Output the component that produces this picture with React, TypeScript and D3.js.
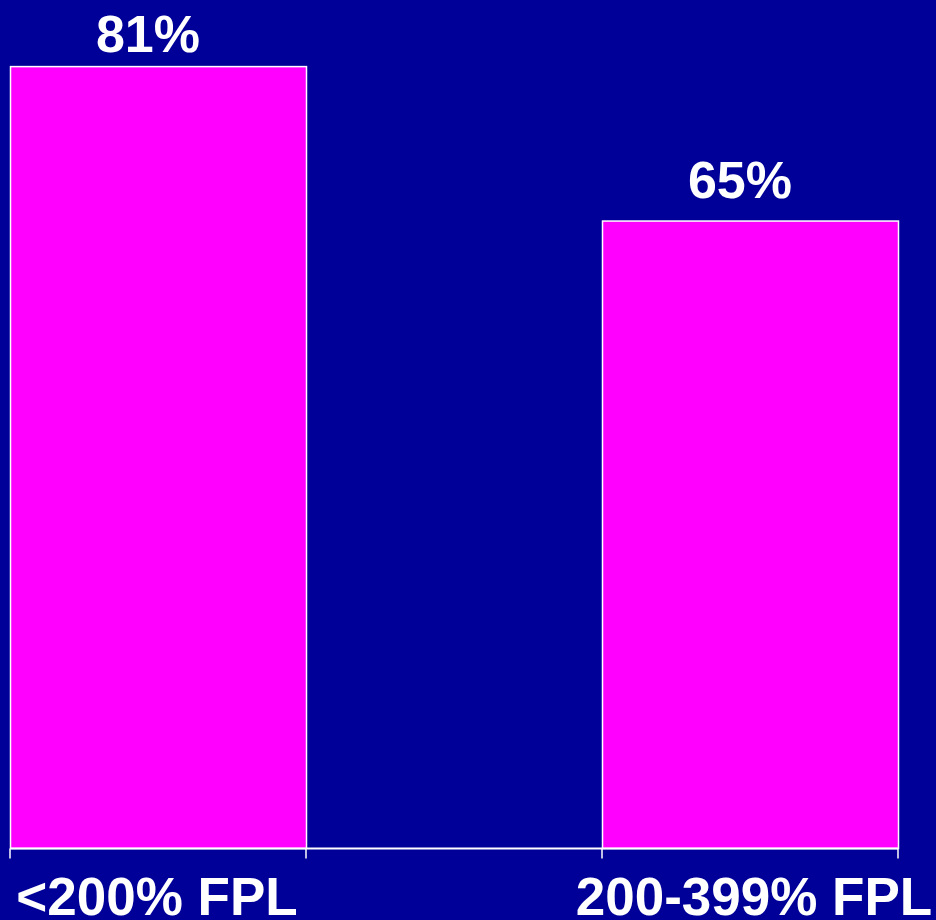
import React from "react";
import * as d3 from "d3";

const categories = ["<200% FPL", "", "200-399% FPL"];
const values: (number | null)[] = [81, null, 65];
const valueLabels = ["81%", "", "65%"];
const labelGap = [15, 0, 23];
const labelShift = [-10, 0, -10];
const catLabelShift = [-1, 0, 4];

const W = 936;
const H = 920;
const BG = "#000099";
const BAR = "#FF00FF";

export default function App() {
  const x = d3.scaleBand<number>().domain(categories.map((_, i) => i)).range([10, 898]).paddingInner(0).paddingOuter(0);
  const y = d3.scaleLinear().domain([0, 87.9]).range([848.5, 0]);
  const font = "'Liberation Sans', Arial, Helvetica, sans-serif";
  const bounds = [0, ...categories.map((_, i) => i + 1)];
  return (
    <svg width={W} height={H} style={{ position: "absolute", left: 0, top: 0, display: "block" }} xmlns="http://www.w3.org/2000/svg">
      <rect x={0} y={0} width={W} height={H} fill={BG} />
      {values.map((v, i) =>
        v == null ? null : (
          <rect key={"b" + i} x={x(i)! + 0.5} y={y(v)} width={x.bandwidth()} height={y(0) - y(v)} fill={BAR} stroke="#FFFFFF" strokeWidth={1.5} />
        )
      )}
      <line x1={x(0)!} x2={x(categories.length - 1)! + x.bandwidth()} y1={y(0)} y2={y(0)} stroke="#FFFFFF" strokeWidth={2} />
      {bounds.map((b) => {
        const px = b < categories.length ? x(b)! : x(categories.length - 1)! + x.bandwidth();
        return <line key={"t" + b} x1={px} x2={px} y1={y(0)} y2={y(0) + 10} stroke="#FFFFFF" strokeWidth={1.5} />;
      })}
      {values.map((v, i) =>
        v == null ? null : (
          <text key={"v" + i} x={x(i)! + x.bandwidth() / 2 + labelShift[i]} y={y(v) - labelGap[i]} textAnchor="middle" fill="#FFFFFF" fontFamily={font} fontWeight="bold" fontSize={52}>
            {valueLabels[i]}
          </text>
        )
      )}
      {categories.map((c, i) =>
        c ? (
          <text key={"c" + i} x={x(i)! + x.bandwidth() / 2 + catLabelShift[i]} y={915} textAnchor="middle" fill="#FFFFFF" fontFamily={font} fontWeight="bold" fontSize={53}>
            {c}
          </text>
        ) : null
      )}
    </svg>
  );
}
